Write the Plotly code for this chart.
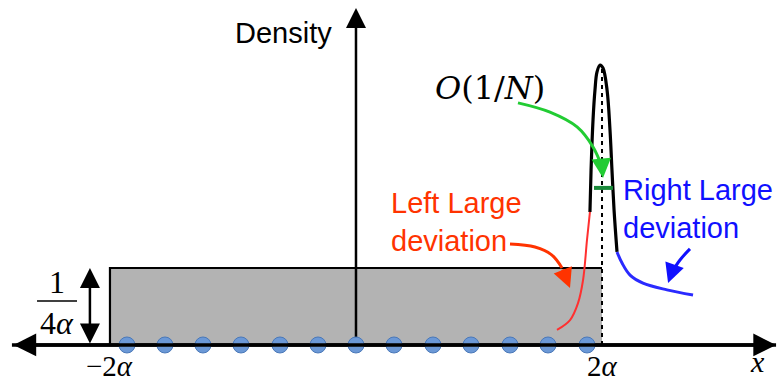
import plotly.graph_objects as go

# ---- data (x in units of alpha, y = density) ----
rect_x = [-2.0, -2.0, 2.0, 2.0]
rect_y = [0.0, 0.25, 0.25, 0.0]

particle_x = [-1.862, -1.553, -1.244, -0.935, -0.618, -0.309, 0.0,
              0.309, 0.626, 0.935, 1.252, 1.561, 1.878]
particle_y = [0.0] * 13

peak_x = [1.902, 1.911, 1.927, 1.943, 1.959, 1.984, 2.008, 2.041, 2.065, 2.081, 2.098, 2.122]
peak_y = [0.432, 0.568, 0.731, 0.828, 0.886, 0.909, 0.899, 0.828, 0.698, 0.568, 0.438, 0.302]

left_dev_x = [1.634, 1.740, 1.805, 1.846, 1.878, 1.902]
left_dev_y = [0.049, 0.081, 0.136, 0.211, 0.341, 0.432]

right_dev_x = [2.122, 2.163, 2.228, 2.333, 2.528, 2.740]
right_dev_y = [0.302, 0.266, 0.227, 0.201, 0.179, 0.162]

green_arrow_x = [1.317, 1.577, 1.797, 1.927, 2.000, 2.008]
green_arrow_y = [0.786, 0.756, 0.708, 0.643, 0.578, 0.542]

red_arrow_x = [1.252, 1.455, 1.593, 1.675, 1.740]
red_arrow_y = [0.328, 0.318, 0.292, 0.250, 0.185]

blue_arrow_x = [2.715, 2.634, 2.569, 2.537]
blue_arrow_y = [0.312, 0.276, 0.237, 0.201]

width_bar_x = [1.935, 2.089]
width_bar_y = [0.510, 0.510]

dotted_x = [2.0, 2.0]
dotted_y = [0.0, 0.9]

x_axis_ends = [-2.797, 3.415]
y_axis_top = 1.094
height_marker_x = -2.163
frac_line_x = [-2.593, -2.268]
frac_line_y = [0.143, 0.143]

fig = go.Figure()

# rectangle fill
fig.add_trace(go.Scatter(x=rect_x + [rect_x[0]], y=rect_y + [rect_y[0]], fill="toself",
                         fillcolor="#b3b3b3", line=dict(width=0), mode="lines", hoverinfo="skip"))
# rectangle left + top edges
fig.add_trace(go.Scatter(x=rect_x[:3], y=rect_y[:3], mode="lines",
                         line=dict(color="black", width=2.2)))
# dotted line at 2 alpha
fig.add_trace(go.Scatter(x=dotted_x, y=dotted_y, mode="lines",
                         line=dict(color="black", width=2, dash="4px,4px")))
# peak
fig.add_trace(go.Scatter(x=peak_x, y=peak_y, mode="lines", line_shape="spline",
                         line=dict(color="black", width=3.2)))
# left deviation
fig.add_trace(go.Scatter(x=left_dev_x, y=left_dev_y, mode="lines", line_shape="spline",
                         line=dict(color="#ff3030", width=2)))
# right deviation
fig.add_trace(go.Scatter(x=right_dev_x, y=right_dev_y, mode="lines", line_shape="spline",
                         line=dict(color="#2a2aff", width=3)))
# green width bar
fig.add_trace(go.Scatter(x=width_bar_x, y=width_bar_y, mode="lines",
                         line=dict(color="#1a8a3a", width=4)))
# curved arrows bodies
fig.add_trace(go.Scatter(x=green_arrow_x[:-1], y=green_arrow_y[:-1], mode="lines", line_shape="spline",
                         line=dict(color="#22cc33", width=3)))
fig.add_trace(go.Scatter(x=red_arrow_x[:-1], y=red_arrow_y[:-1], mode="lines", line_shape="spline",
                         line=dict(color="#ff3300", width=3)))
fig.add_trace(go.Scatter(x=blue_arrow_x[:-1], y=blue_arrow_y[:-1], mode="lines", line_shape="spline",
                         line=dict(color="#1010ff", width=3)))
# x axis line
fig.add_trace(go.Scatter(x=x_axis_ends, y=[0, 0], mode="lines",
                         line=dict(color="black", width=3.5)))
# y axis line
fig.add_trace(go.Scatter(x=[0, 0], y=[0, y_axis_top - 0.04], mode="lines",
                         line=dict(color="black", width=2.5)))
# fraction bar
fig.add_trace(go.Scatter(x=frac_line_x, y=frac_line_y, mode="lines",
                         line=dict(color="black", width=1.5)))
# particles
fig.add_trace(go.Scatter(x=particle_x, y=particle_y, mode="markers",
                         marker=dict(size=16, color="#6b98d6", line=dict(color="#4a78b8", width=1))))

ann = []
def arrow(x, y, ax, ay, color, width, size, head=2, side="end"):
    ann.append(dict(x=x, y=y, ax=ax, ay=ay, xref="x", yref="y", axref="x", ayref="y",
                    showarrow=True, arrowhead=head, arrowsize=size, arrowwidth=width,
                    arrowcolor=color, text="", arrowside=side, startarrowhead=head,
                    startarrowsize=size))

arrow(x_axis_ends[1], 0, x_axis_ends[0], 0, "black", 3.5, 1.3, side="end+start")
arrow(0, y_axis_top, 0, y_axis_top - 0.06, "black", 2.5, 1.6)
arrow(height_marker_x, 0.25, height_marker_x, 0.0, "black", 2.5, 1.6, side="end+start")
arrow(green_arrow_x[-1], green_arrow_y[-1], green_arrow_x[-2], green_arrow_y[-2], "#22cc33", 3, 1.3)
arrow(red_arrow_x[-1], red_arrow_y[-1], red_arrow_x[-2], red_arrow_y[-2], "#ff3300", 3, 1.3)
arrow(blue_arrow_x[-1], blue_arrow_y[-1], blue_arrow_x[-2], blue_arrow_y[-2], "#1010ff", 3, 1.3)

def label(x, y, text, size, color="black", family="Liberation Sans", xanchor="center", align="center"):
    ann.append(dict(x=x, y=y, xref="x", yref="y", text=text, showarrow=False,
                    font=dict(size=size, color=color, family=family),
                    xanchor=xanchor, yanchor="middle", align=align, borderpad=0))

label(-0.593, 1.013, "Density", 29)
label(1.089, 0.834, "<i>O</i>(1/<i>N</i>)", 32, family="DejaVu Serif")
label(0.276, 0.399, "Left Large<br>deviation", 29, color="#ff3300", xanchor="left", align="left")
label(2.165, 0.44, "Right Large<br>deviation", 29, color="#1010ff", xanchor="left", align="left")
label(-2.0, -0.068, "\u22122<i>\u03b1</i>", 29, family="Liberation Serif")
label(2.008, -0.068, "2<i>\u03b1</i>", 29, family="Liberation Serif")
label(3.26, -0.055, "<i>x</i>", 30, family="Liberation Serif")
label(-2.43, 0.205, "1", 32, family="Liberation Serif")
label(-2.43, 0.072, "4<i>\u03b1</i>", 32, family="Liberation Serif")

fig.update_layout(
    width=780, height=381,
    margin=dict(l=0, r=0, t=0, b=0),
    paper_bgcolor="white", plot_bgcolor="white",
    showlegend=False,
    annotations=ann,
    xaxis=dict(range=[-2.894, 3.447], visible=False, fixedrange=True),
    yaxis=dict(range=[-0.1169, 1.1201], visible=False, fixedrange=True),
)

fig.write_html("out.html", config={"displayModeBar": False},
               post_script="document.body.style.margin='0';document.body.style.overflow='hidden';")
